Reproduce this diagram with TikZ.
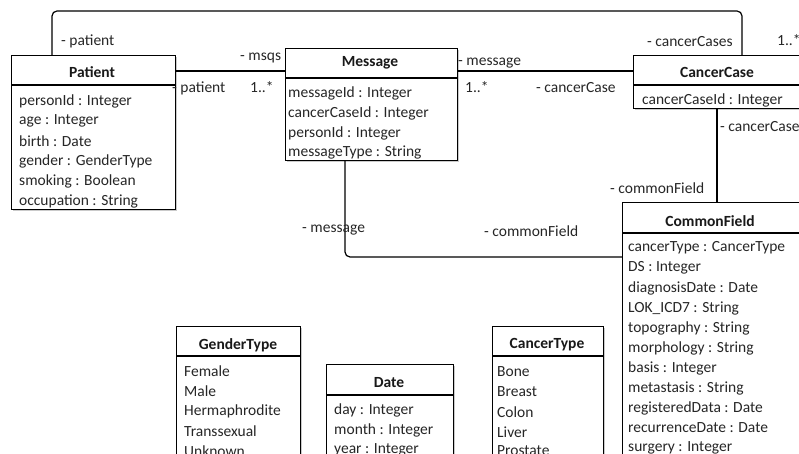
\documentclass[tikz,border=0pt]{standalone}
\usepackage{fontspec}
\setmainfont{Carlito}
\usetikzlibrary{shadows}
\begin{document}
\begin{tikzpicture}[x=1pt,y=-1pt,
  box/.style={draw=black, line width=1.2pt, fill=white, anchor=north west, inner sep=0pt,
    drop shadow={shadow xshift=1.8pt, shadow yshift=-1.8pt, fill=black!35, opacity=.6}},
  sep/.style={draw=black, line width=1.1pt},
  ttl/.style={font=\fontsize{15.5}{15.5}\selectfont\bfseries, text=black!90, inner sep=0pt, anchor=center},
  attr/.style={font=\fontsize{15.5}{15.5}\selectfont, text=black!85, inner sep=0pt, anchor=west},
  lbl/.style={font=\fontsize{15.5}{15.5}\selectfont, text=black!85, inner sep=0pt, anchor=west},
  conn/.style={draw=black, line width=1.2pt, rounded corners=5pt}]
\useasboundingbox (0,0) rectangle (799,454);
\clip (0,0) rectangle (799,454);

% coordinates for connector routes
\coordinate (top1) at (52,11);
\coordinate (top2) at (742,11);
\coordinate (pm) at (230,71);
\coordinate (mc) at (545,71);
\coordinate (mcf) at (345,257);
\coordinate (ccf) at (717,150);

% boxes
\node[box, minimum width=164pt, minimum height=154pt] (patient) at (11,55) {};
\node[box, minimum width=172pt, minimum height=112pt] (message) at (285,48) {};
\node[box, minimum width=175pt, minimum height=53pt] (cancercase) at (633,55) {};
\node[box, minimum width=182pt, minimum height=270pt] (commonfield) at (622,202) {};
\node[box, minimum width=124pt, minimum height=150pt] (gendertype) at (176,326) {};
\node[box, minimum width=127pt, minimum height=110pt] (date) at (326,364) {};
\node[box, minimum width=111pt, minimum height=150pt] (cancertype) at (492,326) {};

% separators
\draw[sep] (11,85) -- (175,85);
\draw[sep] (285,78) -- (457,78);
\draw[sep] (633,85) -- (808,85);
\draw[sep] (622,233) -- (804,233);
\draw[sep] (176,356) -- (300,356);
\draw[sep] (326,395) -- (453,395);
\draw[sep] (492,356) -- (603,356);

% connectors
\draw[conn] (patient.north -| top1) -- (top1) -- (top2) -- (cancercase.north -| top2);
\draw[conn] (patient.east |- pm) -- (message.west |- pm);
\draw[conn] (message.east |- mc) -- (cancercase.west |- mc);
\draw[conn] (message.south -| mcf) -- (mcf) -- (commonfield.west |- mcf);
\draw[conn] (cancercase.south -| ccf) -- (commonfield.north -| ccf);

% Patient
\node[ttl] (pt) at (92,72) {Patient};
\node[attr] (p1) at (19,101) {personId : Integer};
\node[attr] (p2) at (19,121) {age : Integer};
\node[attr] (p3) at (19,141) {birth : Date};
\node[attr] (p4) at (19,161) {gender : GenderType};
\node[attr] (p5) at (19,181) {smoking : Boolean};
\node[attr] (p6) at (19,201) {occupation : String};

% Message
\node[ttl] (mt) at (370,63) {Message};
\node[attr] (m1) at (288,93) {messageId : Integer};
\node[attr] (m2) at (288,113) {cancerCaseId : Integer};
\node[attr] (m3) at (288,133) {personId : Integer};
\node[attr] (m4) at (288,153) {messageType : String};

% CancerCase
\node[ttl] (ct) at (717,72) {CancerCase};
\node[attr] (c1) at (642,100) {cancerCaseId : Integer};

% CommonField
\node[ttl] (ft) at (710,221) {CommonField};
\node[attr] (f1) at (628,248) {cancerType : CancerType};
\node[attr] (f2) at (628,268) {DS : Integer};
\node[attr] (f3) at (628,288) {diagnosisDate : Date};
\node[attr] (f4) at (628,308) {LOK\_ICD7 : String};
\node[attr] (f5) at (628,328) {topography : String};
\node[attr] (f6) at (628,348) {morphology : String};
\node[attr] (f7) at (628,368) {basis : Integer};
\node[attr] (f8) at (628,388) {metastasis : String};
\node[attr] (f9) at (628,408) {registeredData : Date};
\node[attr] (f10) at (628,428) {recurrenceDate : Date};
\node[attr] (f11) at (628,448) {surgery : Integer};

% GenderType
\node[ttl] (gt) at (238,345) {GenderType};
\node[attr] (g1) at (184,371) {Female};
\node[attr] (g2) at (184,391) {Male};
\node[attr] (g3) at (184,411) {Hermaphrodite};
\node[attr] (g4) at (184,431) {Transsexual};
\node[attr] (g5) at (184,451) {Unknown};

% Date
\node[ttl] (dt) at (389,383) {Date};
\node[attr] (d1) at (334,410) {day : Integer};
\node[attr] (d2) at (334,430) {month : Integer};
\node[attr] (d3) at (334,450) {year : Integer};

% CancerType
\node[ttl] (tt) at (547,345) {CancerType};
\node[attr] (t1) at (497,372) {Bone};
\node[attr] (t2) at (497,392) {Breast};
\node[attr] (t3) at (497,412) {Colon};
\node[attr] (t4) at (497,432) {Liver};
\node[attr] (t5) at (497,451) {Prostate};

% connector labels
\node[lbl] (l1) at (61,41) {- patient};
\node[lbl] (l2) at (240,58) {- msqs};
\node[lbl] (l3) at (172,88) {- patient};
\node[lbl] (l4) at (250,87) {1..*};
\node[lbl] (l5) at (458,63) {- message};
\node[lbl] (l6) at (465,87) {1..*};
\node[lbl] (l7) at (536,88) {- cancerCase};
\node[lbl] (l8) at (647,42) {- cancerCases};
\node[lbl] (l9) at (777,40) {1..*};
\node[lbl] (l10) at (720,127) {- cancerCase};
\node[lbl] (l11) at (610,188) {- commonField};
\node[lbl] (l12) at (302,230) {- message};
\node[lbl] (l13) at (484,231) {- commonField};
\end{tikzpicture}
\end{document}
